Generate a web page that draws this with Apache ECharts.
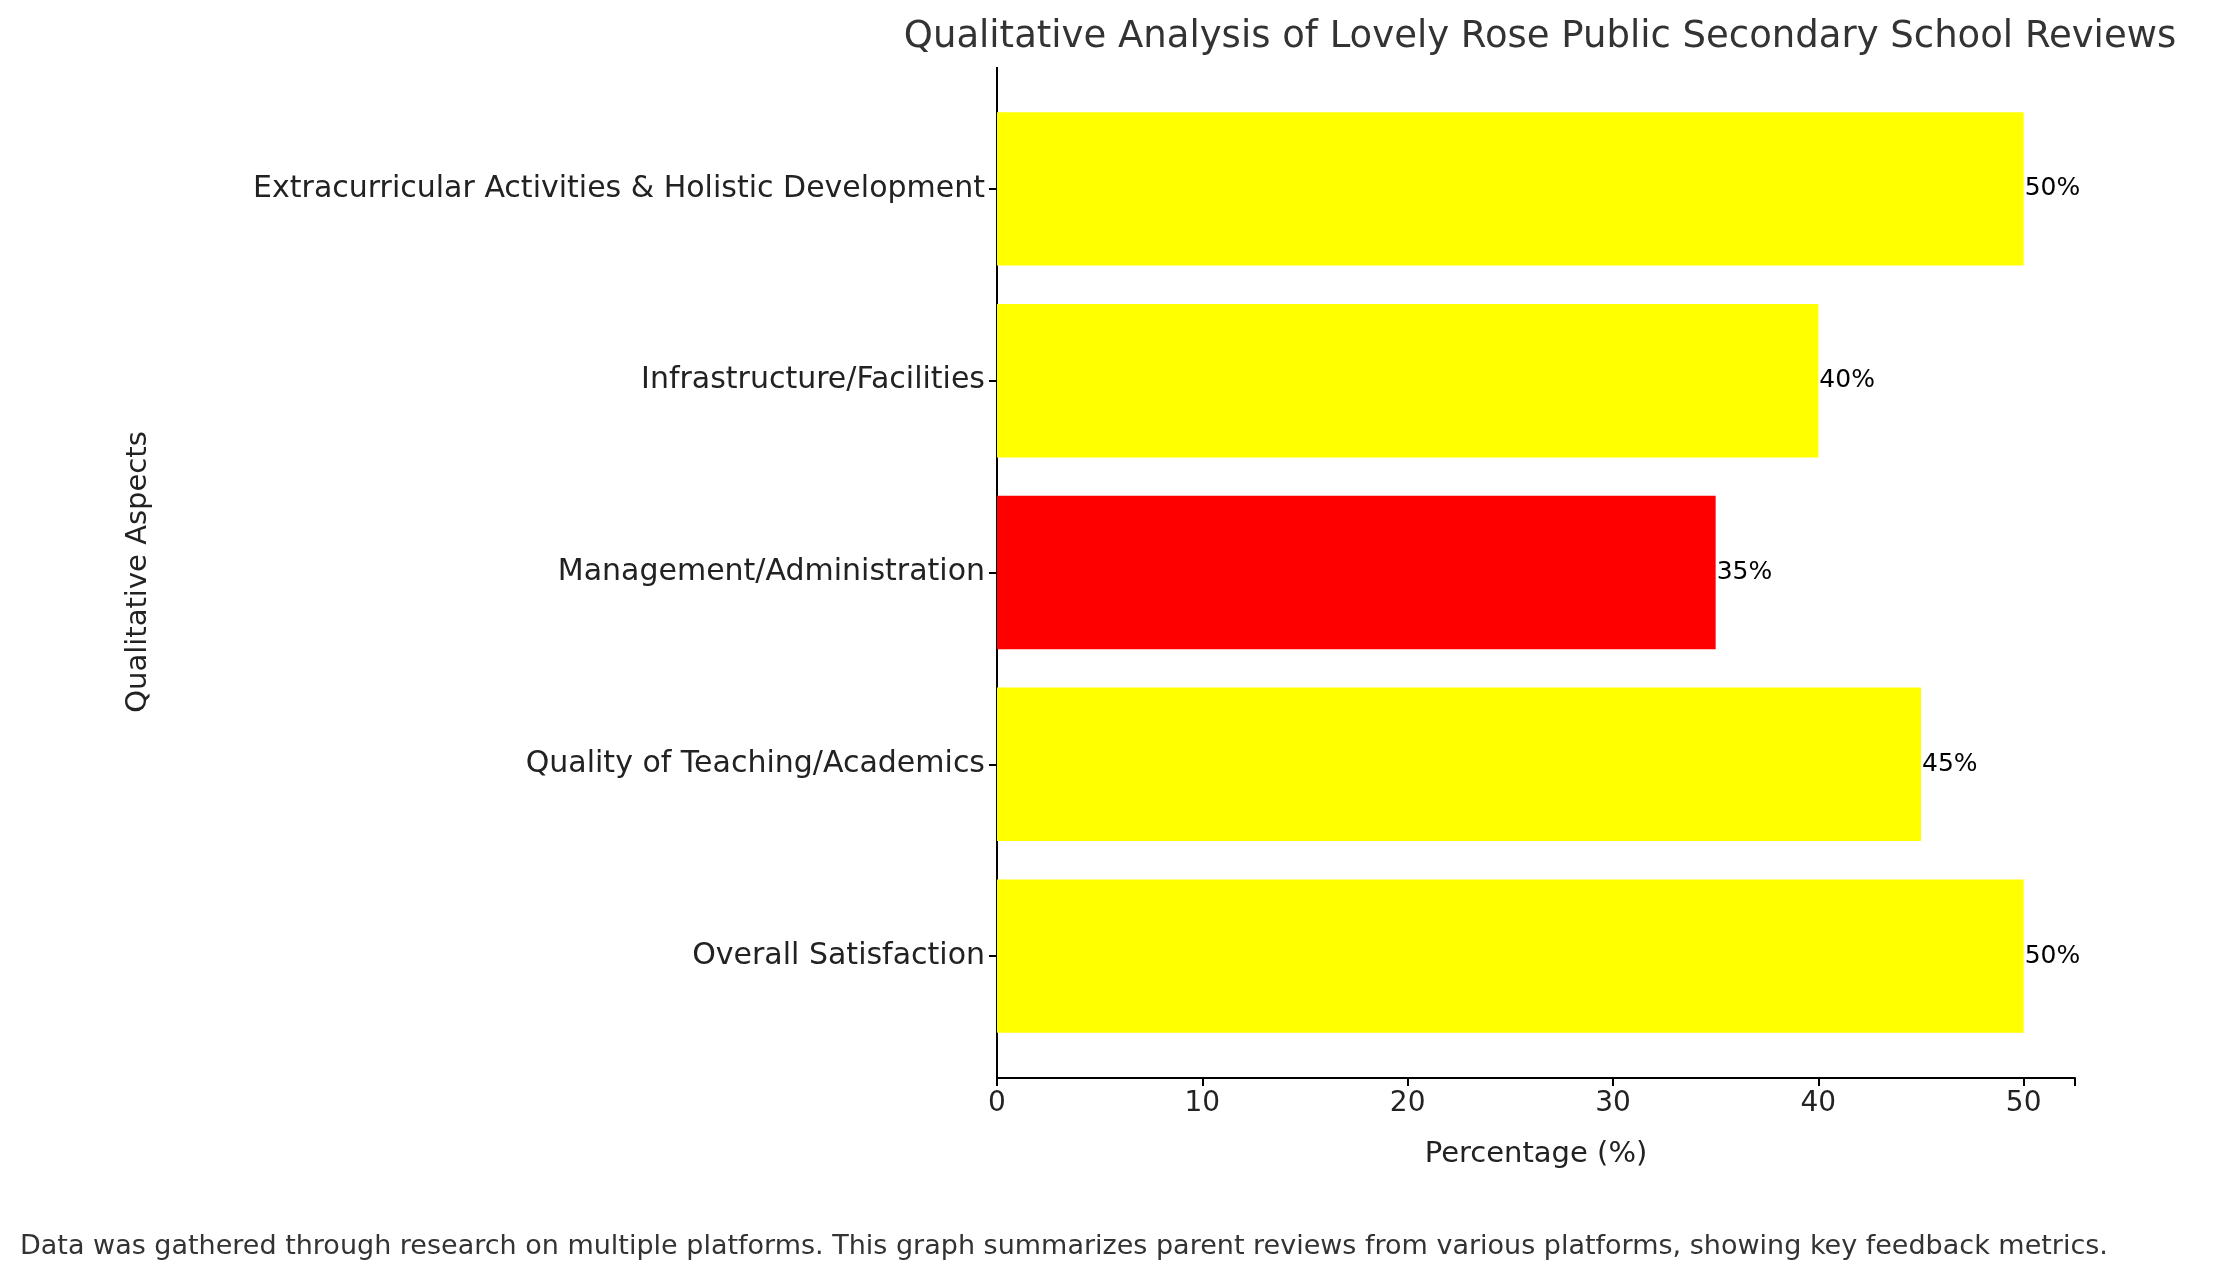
<!DOCTYPE html><html><head><meta charset="utf-8"><script src="https://cdn.jsdelivr.net/npm/echarts@6/dist/echarts.min.js"></script>
<style>html,body{margin:0;background:#fff}#c{width:2216px;height:1276px}</style></head><body><div id="c"></div><script>
const categories=["Overall Satisfaction","Quality of Teaching/Academics","Management/Administration","Infrastructure/Facilities","Extracurricular Activities & Holistic Development"];
const values=[50,45,35,40,50];
const colors=["#ffff00","#ffff00","#ff0000","#ffff00","#ffff00"];
const xTicks=[0,10,20,30,40,50];
const F='DejaVu Sans';
const ch=echarts.init(document.getElementById('c'));
ch.setOption({animation:false,
title:{text:"Qualitative Analysis of Lovely Rose Public Secondary School Reviews",left:1535,top:14,textAlign:'center',textStyle:{fontFamily:F,fontSize:37,fontWeight:'normal',color:'#333'}},
grid:{left:997,right:141,top:93,bottom:224},
xAxis:{type:'value',min:0,max:52.5,interval:10,offset:26,splitLine:{show:false},
axisLine:{show:true,lineStyle:{color:'#000',width:2}},axisTick:{show:true,length:8,lineStyle:{color:'#000',width:2}},
axisLabel:{fontFamily:F,fontSize:28,color:'#222',margin:12,formatter:v=>xTicks.includes(v)?String(v):''},
name:"Percentage (%)",nameLocation:'middle',nameGap:62,nameTextStyle:{fontFamily:F,fontSize:29,color:'#222'}},
yAxis:{type:'category',data:categories,axisLine:{show:false},axisTick:{show:true,alignWithLabel:true,length:8,lineStyle:{color:'#000',width:2}},
axisLabel:{fontFamily:F,fontSize:30,color:'#222',margin:12}},
graphic:[{type:'line',shape:{x1:997,y1:67,x2:997,y2:1079},style:{stroke:'#000',lineWidth:2}},
{type:'text',left:123,top:572,rotation:Math.PI/2,style:{text:"Qualitative Aspects",font:'29px "DejaVu Sans"',fill:'#222',textAlign:'center',textVerticalAlign:'middle'},x:138,y:572,left:null,top:null},
{type:'text',x:20,y:1247,style:{text:"Data was gathered through research on multiple platforms. This graph summarizes parent reviews from various platforms, showing key feedback metrics.",font:'27px "DejaVu Sans"',fill:'#333',textVerticalAlign:'middle'}}],
series:[{type:'bar',barCategoryGap:'20%',data:values.map((v,i)=>({value:v,itemStyle:{color:colors[i]}})),
label:{show:true,position:'right',distance:1,formatter:p=>p.value+'%',fontFamily:F,fontSize:25,color:'#000'}}]});
</script></body></html>
